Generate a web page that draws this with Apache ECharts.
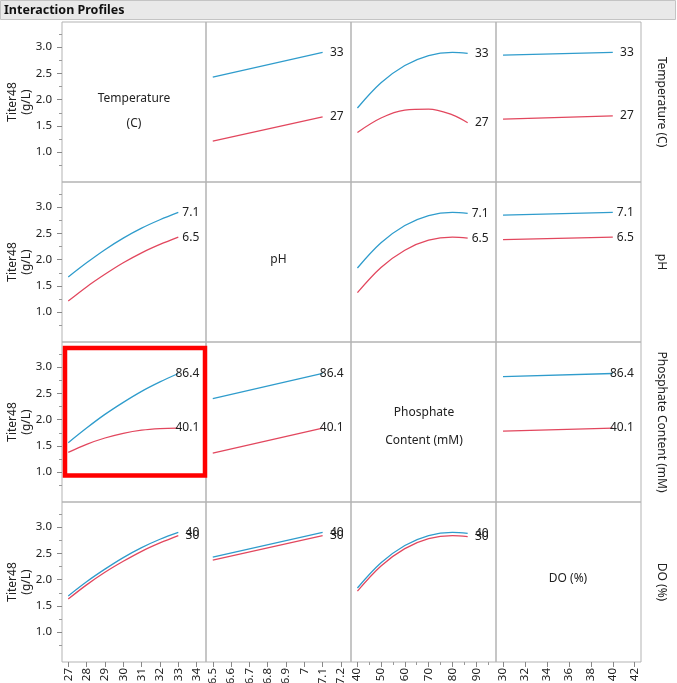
<!DOCTYPE html>
<html><head><meta charset="utf-8">
<script src="https://cdn.jsdelivr.net/npm/echarts@6/dist/echarts.min.js"></script>
<style>html,body{margin:0;padding:0;background:#fff}#c{width:677px;height:683px}</style>
</head><body><div id="c"></div>
<script>
// ---------------- data ----------------
const factorNames = ['Temperature (C)', 'pH', 'Phosphate Content (mM)', 'DO (%)'];
const lowLabels = ['27', '6.5', '40.1', '30'];
const highLabels = ['33', '7.1', '86.4', '40'];

const tempX = [27, 28, 29, 30, 31, 32, 33];
const phX = [6.5, 7.1];
const phosX = [40.1, 50, 60, 70, 80, 86.4];
const doX = [30, 40];

// row 1: Temperature trace (27 low / 33 high)
const tempLo_pH = [1.21, 1.67];
const tempHi_pH = [2.43, 2.90];
const tempLo_phos = [1.375, 1.65, 1.80, 1.82, 1.71, 1.56];
const tempHi_phos = [1.84, 2.32, 2.65, 2.84, 2.90, 2.88];
const tempLo_DO = [1.63, 1.69];
const tempHi_DO = [2.85, 2.90];
// row 2: pH trace (6.5 low / 7.1 high)
const phLo_temp = [1.21, 1.48, 1.72, 1.94, 2.13, 2.29, 2.43];
const phHi_temp = [1.67, 1.94, 2.19, 2.41, 2.60, 2.76, 2.90];
const phLo_phos = [1.37, 1.85, 2.18, 2.37, 2.43, 2.41];
const phHi_phos = [1.84, 2.32, 2.65, 2.84, 2.90, 2.88];
const phLo_DO = [2.38, 2.43];
const phHi_DO = [2.85, 2.90];
// row 3: Phosphate trace (40.1 low / 86.4 high)
const phosLo_temp = [1.375, 1.53, 1.65, 1.74, 1.80, 1.83, 1.84];
const phosHi_temp = [1.56, 1.84, 2.10, 2.33, 2.54, 2.72, 2.88];
const phosLo_pH = [1.36, 1.84];
const phosHi_pH = [2.40, 2.88];
const phosLo_DO = [1.78, 1.84];
const phosHi_DO = [2.82, 2.88];
// row 4: DO trace (30 low / 40 high)
const doLo_temp = [1.63, 1.90, 2.14, 2.35, 2.54, 2.70, 2.84];
const doHi_temp = [1.69, 1.96, 2.20, 2.42, 2.61, 2.77, 2.90];
const doLo_pH = [2.37, 2.84];
const doHi_pH = [2.43, 2.90];
const doLo_phos = [1.78, 2.26, 2.59, 2.78, 2.84, 2.82];
const doHi_phos = [1.84, 2.32, 2.65, 2.84, 2.90, 2.88];

// tick labels
const yLabelVals = [1.0, 1.5, 2.0, 2.5, 3.0];
const yMinorVals = [0.75, 1.25, 1.75, 2.25, 2.75, 3.25];
const tempTicks = [27, 28, 29, 30, 31, 32, 33, 34];
const phTicks = [6.5, 6.6, 6.7, 6.8, 6.9, 7, 7.1, 7.2];
const phosTicks = [40, 50, 60, 70, 80, 90];
const phosMinor = [45, 55, 65, 75, 85, 95];
const doTicks = [30, 32, 34, 36, 38, 40, 42];

// ---------------- layout / styles ----------------
const FONT = 'Noto Sans';
const RED = '#e2475e', BLUE = '#2f9ccc', TXT = '#222';
const colLeft = [62, 206, 351, 496], colW = [144, 145, 145, 145];
const rowTop = [22, 182, 342, 502], rowH = 160;
const xRanges = [[26.66, 34.51], [6.463, 7.255], [37.4, 98.3], [29.36, 42.57]];
const yRange = [0.43, 3.48];
const xTickSets = [tempTicks, phTicks, phosTicks, doTicks];
const xMinorSets = [[], [], phosMinor, []];
const xsByCol = [tempX, phX, phosX, doX];

const cellData = {
  '0-1': [tempLo_pH, tempHi_pH], '0-2': [tempLo_phos, tempHi_phos], '0-3': [tempLo_DO, tempHi_DO],
  '1-0': [phLo_temp, phHi_temp], '1-2': [phLo_phos, phHi_phos], '1-3': [phLo_DO, phHi_DO],
  '2-0': [phosLo_temp, phosHi_temp], '2-1': [phosLo_pH, phosHi_pH], '2-3': [phosLo_DO, phosHi_DO],
  '3-0': [doLo_temp, doHi_temp], '3-1': [doLo_pH, doHi_pH], '3-2': [doLo_phos, doHi_phos]
};

const grids = [], xAxes = [], yAxes = [], series = [];
for (let r = 0; r < 4; r++) {
  for (let c = 0; c < 4; c++) {
    const g = r * 4 + c;
    grids.push({ left: colLeft[c], top: rowTop[r], width: colW[c], height: rowH, show: true,
      borderColor: '#b3b3b3', borderWidth: 1, containLabel: false, outerBoundsMode: 'none' });
    xAxes.push({ gridIndex: g, type: 'value', min: xRanges[c][0], max: xRanges[c][1],
      axisLine: { show: false }, splitLine: { show: false },
      axisTick: { show: r === 3, customValues: xTickSets[c], length: 5, lineStyle: { color: '#888' } },
      axisLabel: { show: r === 3, customValues: xTickSets[c], rotate: 90, fontSize: 11.5, color: TXT,
        fontFamily: FONT, margin: 6 } });
    yAxes.push({ gridIndex: g, type: 'value', min: yRange[0], max: yRange[1],
      axisLine: { show: false }, splitLine: { show: false },
      axisTick: { show: c === 0, customValues: yLabelVals, length: 5, lineStyle: { color: '#888' } },
      axisLabel: { show: c === 0, customValues: yLabelVals, formatter: v => v.toFixed(1), fontSize: 11.5,
        color: TXT, fontFamily: FONT, margin: 10 } });
  }
}
// minor ticks
for (let r = 0; r < 4; r++) {
  yAxes.push({ gridIndex: r * 4, type: 'value', min: yRange[0], max: yRange[1], position: 'left',
    axisLine: { show: false }, splitLine: { show: false }, axisLabel: { show: false },
    axisTick: { show: true, customValues: yMinorVals, length: 3, lineStyle: { color: '#999' } } });
}
for (let c = 0; c < 4; c++) {
  if (!xMinorSets[c].length) continue;
  xAxes.push({ gridIndex: 12 + c, type: 'value', min: xRanges[c][0], max: xRanges[c][1], position: 'bottom',
    axisLine: { show: false }, splitLine: { show: false }, axisLabel: { show: false },
    axisTick: { show: true, customValues: xMinorSets[c], length: 3, lineStyle: { color: '#999' } } });
}

for (const key in cellData) {
  const [r, c] = key.split('-').map(Number);
  const g = r * 4 + c;
  const xs = xsByCol[c];
  const [lo, hi] = cellData[key];
  [[lo, RED, lowLabels[r]], [hi, BLUE, highLabels[r]]].forEach(([ys, col, lab]) => {
    series.push({ type: 'line', xAxisIndex: g, yAxisIndex: g, data: xs.map((x, i) => [x, ys[i]]),
      smooth: xs.length > 2 ? 0.35 : false, showSymbol: false, silent: true,
      lineStyle: { color: col, width: 1.3 }, itemStyle: { color: col },
      endLabel: { show: true, formatter: lab, color: TXT, fontSize: 12, fontFamily: FONT,
        distance: 21, align: 'right' } });
  });
}

const txt = (x, y, text, extra) => Object.assign({ type: 'text', x, y,
  style: Object.assign({ text, fill: TXT, font: '12px "' + FONT + '"', align: 'center', verticalAlign: 'middle' }, extra || {}) });

const graphics = [
  { type: 'rect', shape: { x: 0.5, y: 0.5, width: 675, height: 19 }, style: { fill: '#e9e9e9', stroke: '#c4c4c4', lineWidth: 1 } },
  { type: 'text', x: 4, y: 10, style: { text: 'Interaction Profiles', fill: '#111', font: 'bold 12.5px "' + FONT + '"', verticalAlign: 'middle' } },
  txt(134, 99, 'Temperature'), txt(134, 124, '(C)'),
  txt(278.5, 260, 'pH'),
  txt(424, 413, 'Phosphate'), txt(424, 441, 'Content (mM)'),
  txt(568, 579, 'DO (%)'),
  { type: 'rect', shape: { x: 65, y: 348, width: 140, height: 127.5 }, style: { fill: 'none', stroke: '#ff0000', lineWidth: 4.5 } }
];
for (let r = 0; r < 4; r++) {
  const cy = rowTop[r] + rowH / 2;
  graphics.push(Object.assign(txt(20, cy, 'Titer48\n(g/L)', { lineHeight: 14 }), { rotation: Math.PI / 2 }));
  graphics.push(Object.assign(txt(661, cy, factorNames[r]), { rotation: -Math.PI / 2 }));
}

const chart = echarts.init(document.getElementById('c'), null, { renderer: 'canvas' });
chart.setOption({ animation: false, grid: grids, xAxis: xAxes, yAxis: yAxes, series, graphic: graphics });
</script></body></html>
